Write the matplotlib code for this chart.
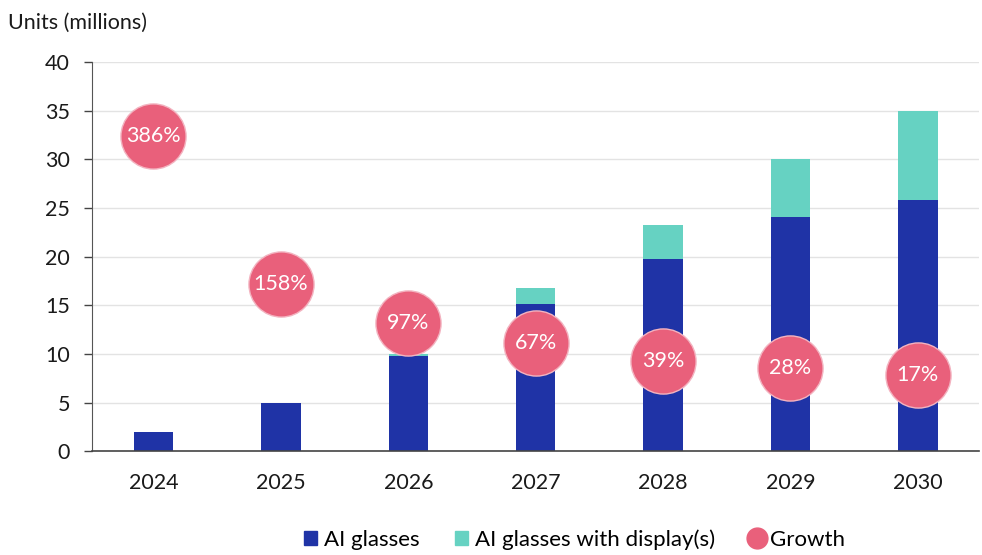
import numpy as np
import matplotlib.pyplot as plt
from matplotlib.patches import Patch
from matplotlib.lines import Line2D

plt.rcParams['font.family'] = ['Lato', 'DejaVu Sans']

# data
years = ['2024', '2025', '2026', '2027', '2028', '2029', '2030']
ai_glasses = [2.0, 5.0, 9.8, 15.1, 19.8, 24.1, 25.8]
ai_display = [0.0, 0.0, 0.2, 1.7, 3.5, 5.9, 9.2]
growth = [386, 158, 97, 67, 39, 28, 17]

c_blue = '#1f33a6'
c_teal = '#66d2c2'
c_pink = '#e9607b'

fig = plt.figure(figsize=(9.82, 5.55), dpi=100)
ax = fig.add_axes([0.094, 0.187, 0.903, 0.701])

x = np.arange(len(years))
ax.bar(x, ai_glasses, width=0.31, color=c_blue, zorder=2)
ax.bar(x, ai_display, width=0.31, bottom=ai_glasses, color=c_teal, zorder=2)

ax.set_ylim(0, 40)
ax.set_yticks(range(0, 41, 5))
ax.set_xlim(-0.48, len(years) - 0.52)
ax.set_xticks(x)
ax.set_xticklabels(years)
ax.tick_params(axis='x', length=0, pad=16, labelsize=15.5, colors='#1a1a1a')
ax.tick_params(axis='y', length=6, width=1, pad=10, labelsize=15.5,
               colors='#444444', labelcolor='#1a1a1a')
ax.grid(axis='y', color='#e3e3e3', linewidth=1, zorder=0)
ax.spines['top'].set_visible(False)
ax.spines['right'].set_visible(False)
ax.spines['left'].set_color('#555555')
ax.spines['bottom'].set_color('#444444')
ax.spines['bottom'].set_linewidth(1.2)

# growth on a hidden secondary scale
ax2 = ax.twinx()
ax2.set_ylim(-100, 500)
ax2.axis('off')
ax2.scatter(x, growth, s=2200, color=c_pink, edgecolors='#f3b3c0',
            linewidths=1, zorder=3)
for xi, g in zip(x, growth):
    ax2.text(xi, g, f'{g}%', ha='center', va='center', color='white',
             fontsize=15.5, zorder=4)

fig.text(0.008, 0.958, 'Units (millions)', fontsize=15.5, color='#1a1a1a',
         ha='left', va='center')

handles = [
    Patch(color=c_blue, label='AI glasses'),
    Patch(color=c_teal, label='AI glasses with display(s)'),
    Line2D([], [], marker='o', linestyle='none', markersize=15,
           color=c_pink, label='Growth'),
]
fig.legend(handles=handles, loc='center', bbox_to_anchor=(0.585, 0.028),
           ncol=3, frameon=False, fontsize=16, handlelength=0.6,
           handleheight=0.6, handletextpad=0.3, columnspacing=1.6)

fig.savefig('out.png', dpi=100)
